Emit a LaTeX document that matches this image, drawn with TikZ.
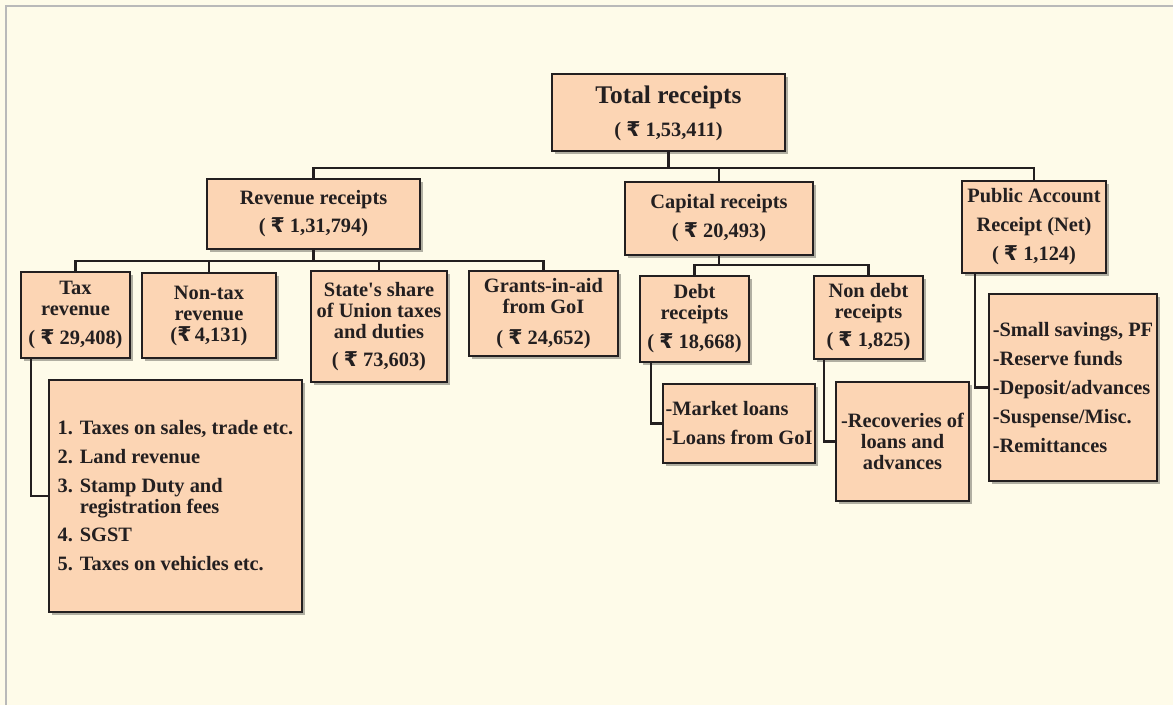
\documentclass[tikz,border=0pt]{standalone}
\usepackage{fontspec}
\setmainfont{Liberation Serif}[Ligatures=TeXOff]
\newfontfamily\rupfont{DejaVu Sans}
\newcommand{\rs}{{\rupfont\bfseries ₹}}
\usetikzlibrary{shadows}
\definecolor{bgc}{HTML}{FEFBE9}
\definecolor{peach}{HTML}{FCD5B4}
\definecolor{ink}{HTML}{231F20}
\tikzset{
  box/.style={draw=ink, fill=peach, line width=2.4pt, inner sep=0pt, align=center,
    drop shadow={shadow xshift=2.5pt, shadow yshift=-2.5pt, fill=black, opacity=0.3}},
  listbox/.style={box, align=left},
  link/.style={draw=ink, line width=2.2pt},
  every node/.style={font=\fontsize{20.4}{21}\selectfont\bfseries, text=ink}
}
\begin{document}
\begin{tikzpicture}[x=1pt,y=-1pt]
\useasboundingbox (0,0) rectangle (1173,705);
\fill[bgc] (0,0) rectangle (1173,705);
\draw[gray!55, line width=1.5pt] (6,705) -- (6,6) -- (1173,6);

% top level
\node[box, minimum width=233pt, minimum height=77pt] (total) at (668.5,112.5) {};
\node[font=\fontsize{25.4}{26}\selectfont\bfseries] (totalt) at (668.5,97) {Total receipts};
\node (totala) at (668.5,131) {( \rs\ 1,53,411)};

% second level
\node[box, minimum width=213pt, minimum height=70pt] (revenue) at (313.5,214)
  {Revenue receipts\\[7pt]( \rs\ 1,31,794)};
\node[box, minimum width=188pt, minimum height=73pt] (capital) at (719,218.5)
  {Capital receipts\\[8pt]( \rs\ 20,493)};
\node[box, minimum width=144pt, minimum height=92pt] (public) at (1034,227)
  {Public Account\\[8pt]Receipt (Net)\\[8pt]( \rs\ 1,124)};

% third level
\node[box, minimum width=109pt, minimum height=86pt] (tax) at (75.5,315)
  {Tax\\revenue\\[8pt]( \rs\ 29,408)};
\node[box, minimum width=134pt, minimum height=85pt] (nontax) at (209,315.5)
  {Non-tax\\revenue\\(\rs\,4,131)};
\node[box, minimum width=136pt, minimum height=111pt] (state) at (379,326.5)
  {State's share\\of Union taxes\\and duties\\[7pt]( \rs\ 73,603)};
\node[box, minimum width=149pt, minimum height=85pt] (grants) at (543.5,313.5)
  {Grants-in-aid\\from GoI\\[10pt]( \rs\ 24,652)};
\node[box, minimum width=109pt, minimum height=86pt] (debt) at (694.5,319)
  {Debt\\receipts\\[8pt]( \rs\ 18,668)};
\node[box, minimum width=109pt, minimum height=83pt] (nondebt) at (868.5,317.5)
  {Non debt\\receipts\\[7pt]( \rs\ 1,825)};

% detail boxes
\node[listbox, minimum width=253pt, minimum height=232pt] (taxlist) at (175.5,496)
  {1. Taxes on sales, trade etc.\\[8pt]2. Land revenue\\[8pt]3. Stamp Duty and\\\hphantom{3. }registration fees\\[7pt]4. SGST\\[8pt]5. Taxes on vehicles etc.};
\node[listbox, minimum width=152pt, minimum height=79pt] (market) at (739,423.5)
  {-Market loans\\[8pt]-Loans from GoI};
\node[box, minimum width=133pt, minimum height=119pt] (recov) at (902.5,441.5)
  {-Recoveries of\\loans and\\advances};
\node[listbox, minimum width=168pt, minimum height=187pt] (publist) at (1073,387.5)
  {-Small savings, PF\\[8pt]-Reserve funds\\[8pt]-Deposit/advances\\[8pt]-Suspense/Misc.\\[8pt]-Remittances};

% connectors: total to second level
\coordinate (bus1) at (668.5,168);
\draw[link] (total.south) -- (bus1);
\draw[link] (revenue.north) |- (bus1);
\draw[link] (capital.north) |- (bus1);
\draw[link] (public.north) |- (bus1);

% revenue to its parts
\coordinate (bus2) at (313.5,261);
\draw[link] (revenue.south) -- (bus2);
\draw[link] (tax.north) |- (bus2);
\draw[link] (nontax.north) |- (bus2);
\draw[link] (state.north) |- (bus2);
\draw[link] (grants.north) |- (bus2);

% capital to its parts
\coordinate (bus3) at (719,265);
\draw[link] (capital.south) -- (bus3);
\draw[link] (debt.north) |- (bus3);
\draw[link] (nondebt.north) |- (bus3);

% elbows to detail boxes
\coordinate (taxs) at ([xshift=11pt]tax.south west);
\coordinate (debts) at ([xshift=12pt]debt.south west);
\coordinate (nondebts) at ([xshift=11pt]nondebt.south west);
\coordinate (publics) at ([xshift=14pt]public.south west);
\draw[link] (taxs) |- (taxlist.west);
\draw[link] (debts) |- (market.west);
\draw[link] (nondebts) |- (recov.west);
\draw[link] (publics) |- (publist.west);
\end{tikzpicture}
\end{document}
